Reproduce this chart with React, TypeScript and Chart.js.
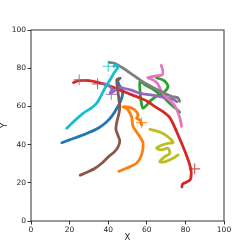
import React, { useEffect, useRef } from "react";
import { Chart, registerables } from "chart.js";

Chart.register(...registerables);

type P = [number, number];

const seriesNames = ["blue", "orange", "green", "red", "purple", "brown", "pink", "gray", "olive", "cyan"];

const blueTrack: P[] = [
  [16, 41], [20, 42.5], [25, 44.3], [30, 46.3], [35, 48.7], [39, 51.7], [42, 55], [44.5, 59],
  [46.5, 63], [47.5, 66.5], [47, 69], [45.5, 71.5], [45, 73.5], [46.2, 74.8],
];
const orangeTrack: P[] = [
  [45.5, 26], [49.5, 27.6], [54.7, 30.2], [57.3, 34.6], [58.1, 40.7], [56.4, 44.2], [52.9, 49.4],
  [52.1, 54.6], [50, 58.5], [47.8, 59.8], [51.2, 59.5], [53.8, 58.1], [55.5, 55.5], [54.7, 53.8],
  [56.4, 52.9], [57.3, 50.3],
];
const greenTrack: P[] = [
  [65, 75], [69, 73.5], [71, 70.5], [69, 67.5], [66, 66], [62, 63], [58, 59], [57, 63], [56.5, 68],
  [56.5, 73], [59.5, 71], [62.5, 69.5], [66, 67], [69, 64.5], [72, 61.5], [75, 59], [77, 57],
];
const redTrack: P[] = [
  [22, 72.5], [25, 73.5], [30, 73.5], [35, 72.5], [40, 71], [45, 69], [50, 67], [55, 65], [60, 62.8],
  [64, 60], [68.4, 57.2], [72, 54], [74.5, 49], [76.2, 45], [78.8, 38.9], [80.5, 34.6], [82.3, 29.3],
  [83, 25.8], [82.6, 21.8], [80.5, 20.3], [78.5, 19.3], [78.2, 17.8],
];
const purpleTrack: P[] = [
  [37, 72], [40, 71], [42, 69], [41, 67], [43, 68], [45, 70], [48, 69.5], [52, 68.5], [56, 67],
  [60, 66.3], [65, 65.5], [70, 64.5], [74, 63.5], [75.5, 62.5],
];
const brownTrack: P[] = [
  [25.5, 24], [29, 25.5], [33, 27.5], [37, 30.5], [40, 33.5], [43, 36], [45, 38.5], [46, 42],
  [45, 45], [44, 48], [44.5, 52], [45.5, 56], [46, 60], [45.5, 64], [45, 68], [44.5, 72],
  [44.5, 74], [45.5, 74.5],
];
const pinkTrack: P[] = [
  [67.5, 81.5], [68.3, 78.5], [68, 76.5], [65, 76], [62, 75.5], [60.5, 75], [63, 74], [65.5, 72],
  [67, 69], [68.5, 66.5], [71, 64], [73.6, 61.6], [75.5, 58.5], [76.8, 55], [77.6, 52], [78, 49.5],
];
const grayTrack: P[] = [
  [40.5, 83], [43.5, 82.5], [47.8, 80], [52.9, 76.4], [57, 73.5], [61.6, 70.8], [66, 68.5],
  [70, 66.5], [73, 65.2], [76.2, 64.4], [77, 62.7],
];
const oliveTrack: P[] = [
  [61.6, 48], [67.6, 46.2], [71.9, 43.3], [73.6, 41], [71, 40.7], [66.7, 39.3], [65, 38.1],
  [67.6, 37.2], [71, 38.1], [71.9, 35.4], [69.3, 33.7], [66.7, 31], [69.3, 31], [73.6, 32.8],
  [76.2, 34.6],
];
const cyanTrack: P[] = [
  [18.5, 48.5], [22, 52], [27, 56.4], [31, 59], [34, 61.6], [36, 65], [38, 69], [41, 74],
  [43, 77.5], [45, 80.5], [44, 81.5], [43, 81],
];

const tracks: P[][] = [
  blueTrack, orangeTrack, greenTrack, redTrack, purpleTrack,
  brownTrack, pinkTrack, grayTrack, oliveTrack, cyanTrack,
];

const markerSeries = ["gray", "brown", "cyan", "purple", "orange", "red"];
const markerPoints: P[] = [[25, 74], [34.5, 71.8], [40, 81], [41.6, 66.3], [57.3, 51.5], [84.8, 27.3]];

const xTicks = [0, 20, 40, 60, 80, 100];
const yTicks = [0, 20, 40, 60, 80, 100];

const palette: Record<string, string> = {
  blue: "#1f77b4", orange: "#ff7f0e", green: "#2ca02c", red: "#d62728", purple: "#9467bd",
  brown: "#8c564b", pink: "#e377c2", gray: "#7f7f7f", olive: "#bcbd22", cyan: "#17becf",
};

const framePlugin = {
  id: "frame",
  afterDatasetsDraw(chart: any) {
    const { ctx, chartArea } = chart;
    const { left, top, right, bottom } = chartArea;
    ctx.save();
    ctx.strokeStyle = "#333";
    ctx.lineWidth = 1;
    ctx.strokeRect(left, top, right - left, bottom - top);
    ctx.restore();
  },
};

export default function App() {
  const ref = useRef<HTMLCanvasElement | null>(null);
  useEffect(() => {
    document.body.style.margin = "0";
    if (!ref.current) return;
    const lineSets = tracks.map((t, i) => ({
      label: seriesNames[i],
      data: t.map(([x, y]) => ({ x, y })),
      showLine: true,
      borderColor: palette[seriesNames[i]],
      backgroundColor: palette[seriesNames[i]],
      borderWidth: 2.8,
      pointRadius: 0,
      tension: 0.25,
      borderCapStyle: "round" as const,
      borderJoinStyle: "round" as const,
      order: 20 - i,
    }));
    const markerSets = markerPoints.map(([x, y], i) => ({
      label: "m-" + markerSeries[i],
      data: [{ x, y }],
      showLine: false,
      pointStyle: "cross" as const,
      pointRadius: 5.5,
      borderWidth: 1.1,
      borderColor: palette[markerSeries[i]] + "cc",
      backgroundColor: palette[markerSeries[i]],
      order: 0,
    }));
    const chart = new Chart(ref.current, {
      type: "scatter",
      data: { datasets: [...lineSets, ...markerSets] as any },
      plugins: [framePlugin],
      options: {
        animation: false,
        responsive: false,
        layout: { padding: { top: 30, right: 25, left: 0, bottom: 0 } },
        plugins: { legend: { display: false }, tooltip: { enabled: false } },
        scales: {
          x: {
            type: "linear",
            min: 0,
            max: 100,
            afterFit: (s: any) => { s.height = 28; },
            afterBuildTicks: (s: any) => { s.ticks = xTicks.map((v) => ({ value: v })); },
            ticks: { color: "#222", padding: 1.5, font: { family: "DejaVu Sans", size: 7.5 } },
            grid: { drawOnChartArea: false, drawTicks: true, tickLength: 3.5, color: "#333" },
            border: { display: false },
            title: { display: true, text: "X", color: "#222", padding: { top: 0, bottom: 6 }, font: { family: "DejaVu Sans", size: 8.5 } },
          },
          y: {
            type: "linear",
            min: 0,
            max: 100,
            afterFit: (s: any) => { s.width = 31; },
            afterBuildTicks: (s: any) => { s.ticks = yTicks.map((v) => ({ value: v })); },
            ticks: { color: "#222", padding: 1.5, font: { family: "DejaVu Sans", size: 7.5 } },
            grid: { drawOnChartArea: false, drawTicks: true, tickLength: 3.5, color: "#333" },
            border: { display: false },
            title: { display: true, text: "Y", color: "#222", padding: { top: 0, bottom: 0 }, font: { family: "DejaVu Sans", size: 8.5 } },
          },
        },
      },
    });
    return () => chart.destroy();
  }, []);
  return (
    <div style={{ width: 249, height: 249 }}>
      <canvas ref={ref} width={249} height={249} style={{ display: "block" }} />
    </div>
  );
}
